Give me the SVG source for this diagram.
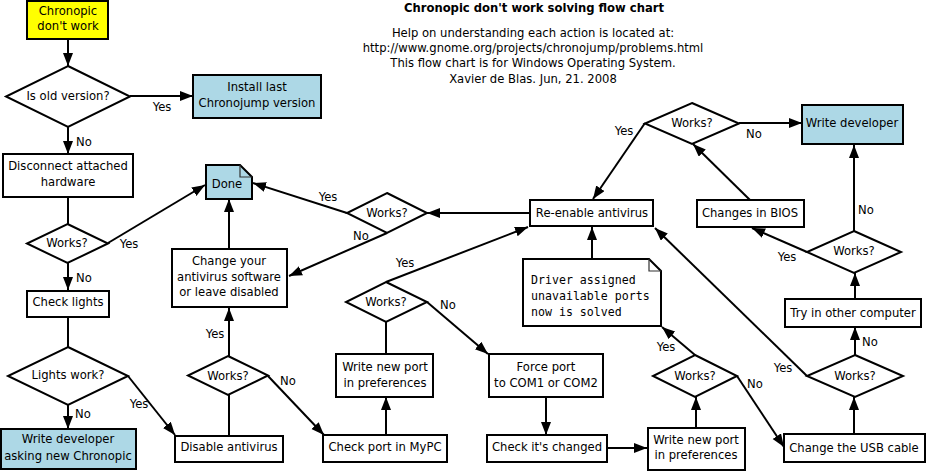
<svg xmlns="http://www.w3.org/2000/svg" width="927" height="472" viewBox="0 0 927 472">
<style>
text{font-family:"DejaVu Sans","Liberation Sans",sans-serif;font-size:11.6px;fill:#000;text-anchor:middle}
.t{font-weight:bold}
.m{font-family:"DejaVu Sans Mono","Liberation Mono",monospace;text-anchor:start}
.n rect,.n polygon{stroke:#000;stroke-width:2;fill:#fff}
.n .y{fill:#ffff00}
.n .b{fill:#add8e6}
.fold{fill:none;stroke:#333;stroke-width:1.2}
.e path{fill:none;stroke:#000;stroke-width:2}
.e .a{marker-end:url(#ah)}
.l text{font-size:11.6px}
</style>
<defs>
<marker id="ah" markerUnits="userSpaceOnUse" markerWidth="15" markerHeight="12" refX="13" refY="5" orient="auto">
<path d="M0,0 L13,5 L0,10 Z" fill="#000"/>
</marker>
</defs>
<rect width="927" height="472" fill="#fff"/>
<g id="title">
<text class="t" x="534" y="12">Chronopic don't work solving flow chart</text>
<text x="533" y="37">Help on understanding each action is located at:</text>
<text x="533" y="52">http://www.gnome.org/projects/chronojump/problems.html</text>
<text x="533" y="67">This flow chart is for Windows Operating System.</text>
<text x="533" y="83">Xavier de Blas. Jun, 21. 2008</text>
</g>
<g class="e" id="connectors">
<path class="a" d="M68,39 L68,66"/>
<path class="a" d="M130,96 L193,96"/>
<path class="a" d="M68,127 L68,154"/>
<path d="M68,197 L68,224"/>
<path class="a" d="M108,243 L205,185"/>
<path class="a" d="M68,263 L68,290"/>
<path d="M68,317 L68,347"/>
<path class="a" d="M68,405 L68,429"/>
<path class="a" d="M128,376 L175,435"/>
<path d="M229,436 L229,395"/>
<path class="a" d="M229,356 L229,308"/>
<path class="a" d="M268,376 L324,435"/>
<path class="a" d="M229,249 L229,199"/>
<path class="a" d="M347,213 L253,183"/>
<path class="a" d="M387,233 L289,276"/>
<path class="a" d="M530,213 L427,213"/>
<path class="a" d="M386,282 L528,227"/>
<path class="a" d="M427,302 L488,354"/>
<path d="M386,354 L386,322"/>
<path class="a" d="M386,435 L386,397"/>
<path class="a" d="M546,397 L546,435"/>
<path class="a" d="M607,448 L647,448"/>
<path class="a" d="M696,428 L696,397"/>
<path class="a" d="M695,355 L662,327"/>
<path class="a" d="M737,376 L784,447"/>
<path class="a" d="M592,259 L592,227"/>
<path class="a" d="M854,434 L854,397"/>
<path class="a" d="M807,376 L655,228"/>
<path class="a" d="M855,355 L855,327"/>
<path class="a" d="M855,299 L855,273"/>
<path class="a" d="M854,231 L854,145"/>
<path class="a" d="M807,252 L752,228"/>
<path class="a" d="M750,200 L693,144"/>
<path class="a" d="M739,123 L802,123"/>
<path class="a" d="M645,123 L593,199"/>
</g>
<g class="l" id="edge-labels">
<text x="162" y="111">Yes</text>
<text x="84" y="146">No</text>
<text x="129" y="248">Yes</text>
<text x="84" y="282">No</text>
<text x="83" y="418">No</text>
<text x="139" y="408">Yes</text>
<text x="215" y="338">Yes</text>
<text x="288" y="385">No</text>
<text x="328" y="201">Yes</text>
<text x="361" y="240">No</text>
<text x="405" y="267">Yes</text>
<text x="448" y="309">No</text>
<text x="624" y="135">Yes</text>
<text x="754" y="138">No</text>
<text x="866" y="214">No</text>
<text x="787" y="261">Yes</text>
<text x="666" y="351">Yes</text>
<text x="755" y="388">No</text>
<text x="783" y="372">Yes</text>
<text x="870" y="346">No</text>
</g>
<g class="n" id="start"><rect class="y" x="27" y="1" width="81" height="38"/><text x="68" y="15">Chronopic</text><text x="68" y="30">don't work</text></g>
<g class="n" id="isold"><polygon points="68,66 130,96.5 68,127 6,96.5"/><text x="68" y="100">Is old version?</text></g>
<g class="n" id="install"><rect class="b" x="193" y="75" width="128" height="43"/><text x="257" y="91">Install last</text><text x="257" y="107">Chronojump version</text></g>
<g class="n" id="disconnect"><rect x="3" y="154" width="130" height="43"/><text x="68" y="170">Disconnect attached</text><text x="68" y="186">hardware</text></g>
<g class="n" id="works1"><polygon points="67.5,224 108,243.5 67.5,263 27,243.5"/><text x="67" y="247">Works?</text></g>
<g class="n" id="checklights"><rect x="27" y="291" width="82" height="26"/><text x="68" y="306">Check lights</text></g>
<g class="n" id="lightswork"><polygon points="68,347 128,376 68,405 8,376"/><text x="68" y="379">Lights work?</text></g>
<g class="n" id="writedev1"><rect class="b" x="1" y="429" width="135" height="40"/><text x="68" y="443">Write developer</text><text x="68" y="460">asking new Chronopic</text></g>
<g class="n" id="disable"><rect x="175" y="436" width="108" height="26"/><text x="229" y="451">Disable antivirus</text></g>
<g class="n" id="works2"><polygon points="228,356 268,375.5 228,395 188,375.5"/><text x="228" y="380">Works?</text></g>
<g class="n" id="change"><rect x="172" y="249" width="115" height="58"/><text x="229" y="265">Change your</text><text x="229" y="281">antivirus software</text><text x="229" y="296">or leave disabled</text></g>
<g class="n" id="done"><polygon class="b" points="206,165 240,165 252,177 252,199 206,199"/><path class="fold" d="M240,165 L240,177 L252,177"/><text x="227" y="188">Done</text></g>
<g class="n" id="works3"><polygon points="387,193 427,213 387,233 347,213"/><text x="387" y="217">Works?</text></g>
<g class="n" id="reenable"><rect x="530" y="200" width="123" height="26"/><text x="592" y="217">Re-enable antivirus</text></g>
<g class="n" id="works4"><polygon points="386,282 427,302 386,322 346,302"/><text x="386" y="306">Works?</text></g>
<g class="n" id="writeport1"><rect x="336" y="354" width="97" height="43"/><text x="385" y="371">Write new port</text><text x="385" y="387">in preferences</text></g>
<g class="n" id="checkport"><rect x="323" y="435" width="124" height="27"/><text x="385" y="451">Check port in MyPC</text></g>
<g class="n" id="force"><rect x="489" y="354" width="114" height="43"/><text x="546" y="371">Force port</text><text x="546" y="387">to COM1 or COM2</text></g>
<g class="n" id="checkchanged"><rect x="487" y="435" width="120" height="27"/><text x="547" y="451">Check it's changed</text></g>
<g class="n" id="writeport2"><rect x="648" y="428" width="97" height="42"/><text x="696" y="444">Write new port</text><text x="696" y="459">in preferences</text></g>
<g class="n" id="works5"><polygon points="695,355 737,376 695,397 653,376"/><text x="695" y="380">Works?</text></g>
<g class="n" id="driver"><polygon points="523,259 649,259 661,271 661,326 523,326"/><path class="fold" d="M649,259 L649,271 L661,271"/><text class="m" x="531" y="284">Driver assigned</text><text class="m" x="531" y="300">unavailable ports</text><text class="m" x="531" y="316">now is solved</text></g>
<g class="n" id="usb"><rect x="784" y="434" width="141" height="28"/><text x="854" y="452">Change the USB cable</text></g>
<g class="n" id="works6"><polygon points="855,355 903,376 855,397 807,376"/><text x="855" y="380">Works?</text></g>
<g class="n" id="other"><rect x="785" y="299" width="136" height="28"/><text x="853" y="317">Try in other computer</text></g>
<g class="n" id="works7"><polygon points="854,231 901,252 854,273 807,252"/><text x="854" y="255">Works?</text></g>
<g class="n" id="bios"><rect x="697" y="200" width="107" height="27"/><text x="750" y="217">Changes in BIOS</text></g>
<g class="n" id="works8"><polygon points="692,103 739,123.5 692,144 645,123.5"/><text x="692" y="127">Works?</text></g>
<g class="n" id="writedev2"><rect class="b" x="802" y="105" width="101" height="39"/><text x="852" y="127">Write developer</text></g>
</svg>
